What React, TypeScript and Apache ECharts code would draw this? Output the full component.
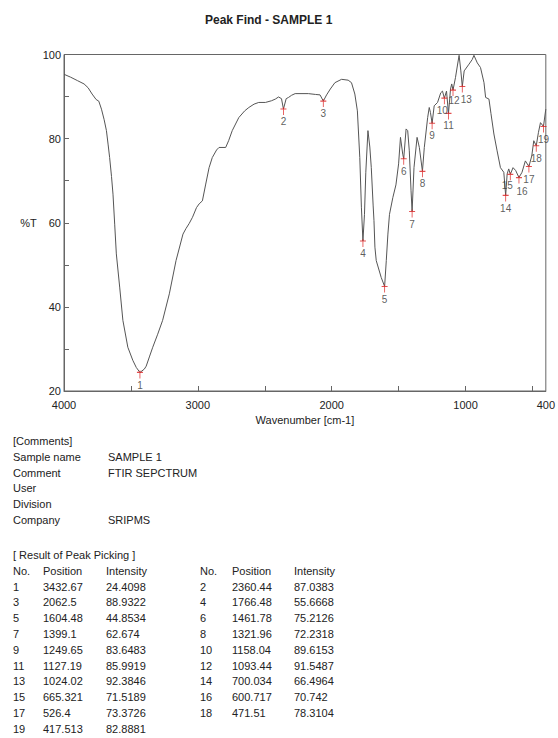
import React, { useEffect, useRef } from "react";
import * as echarts from "echarts";

const titleText = "Peak Find - SAMPLE 1";
const xName = "Wavenumber [cm-1]";
const yName = "%T";
const xLabelValues = [4000, 3000, 2000, 1000, 400];
const xTickValues = [3500, 3000, 2500, 2000, 1500, 1000, 500];

const specWn = [4000, 3950, 3900, 3850, 3820, 3790, 3760, 3740, 3720, 3700, 3683, 3670, 3659, 3645, 3634, 3621, 3609, 3584, 3560, 3523, 3486, 3460, 3432.67, 3400, 3386, 3360, 3337, 3300, 3263, 3213, 3163, 3111, 3089, 3065, 3040, 3010, 2990, 2966, 2941, 2916, 2892, 2860, 2842, 2792, 2770, 2743, 2694, 2650, 2619, 2580, 2545, 2495, 2450, 2421, 2397, 2375, 2360.44, 2340, 2322, 2300, 2273, 2174, 2120, 2087, 2062.5, 2038, 2010, 1976, 1926, 1877, 1852, 1827, 1808, 1790, 1778, 1766.48, 1755, 1745, 1729, 1715, 1704, 1690, 1684, 1677, 1667, 1630, 1604.48, 1592, 1580, 1568, 1543, 1520, 1500, 1486, 1469, 1461.78, 1444, 1432, 1420, 1407, 1399.1, 1385, 1362, 1345, 1321.96, 1308, 1283, 1271, 1262, 1249.65, 1234, 1209, 1185, 1172, 1158.04, 1142, 1127.19, 1112, 1103, 1093.44, 1075, 1060, 1048, 1035, 1024.02, 1010, 974, 950, 937, 912, 888, 862, 850, 825, 810, 788, 764, 739, 714, 700.034, 689, 677, 665.321, 645, 625, 600.717, 578, 553, 526.4, 505, 490, 471.51, 455, 440, 417.513, 402, 400];
const specT = [95.3, 94.6, 93.8, 93.0, 92.1, 90.6, 89.3, 88.9, 87.0, 84.5, 81.9, 78.5, 75.5, 71.0, 66.8, 59.5, 52.6, 44.7, 36.8, 30.4, 27.3, 25.6, 24.4098, 25.2, 25.9, 28.3, 30.4, 33.5, 36.8, 43.1, 51.0, 57.3, 58.6, 59.8, 61.3, 63.6, 64.5, 65.2, 69.2, 73.1, 75.5, 77.3, 77.9, 77.9, 79.5, 81.9, 85.0, 86.6, 87.4, 88.2, 88.6, 88.6, 89.0, 89.4, 89.9, 89.5, 87.0383, 89.5, 89.8, 90.3, 90.7, 90.7, 90.5, 90.4, 88.9322, 90.4, 91.8, 93.3, 94.1, 93.9, 93.3, 90.6, 86.6, 75.5, 63.7, 55.6668, 62.0, 72.0, 81.9, 78.0, 73.1, 64.0, 60.5, 54.2, 51.0, 47.0, 44.8534, 51.0, 57.3, 62.0, 66.0, 69.0, 74.0, 80.3, 76.3, 75.2126, 82.3, 81.9, 77.1, 67.6, 62.674, 73.1, 80.3, 77.9, 72.2318, 77.9, 85.0, 87.4, 86.2, 83.6483, 87.8, 88.6, 90.9, 91.3, 89.6153, 91.3, 85.9919, 91.8, 93.0, 91.5487, 94.5, 97.5, 99.8, 96.1, 92.3846, 96.1, 97.7, 98.8, 99.8, 98.0, 96.9, 93.3, 89.8, 89.4, 86.0, 81.1, 77.1, 73.1, 72.0, 66.4964, 71.6, 72.8, 71.5189, 73.1, 72.4, 70.742, 72.0, 74.7, 73.3726, 75.9, 79.5, 78.3104, 81.5, 83.8, 82.8881, 86.6, 87.0];

const peakNo = [1, 2, 3, 4, 5, 6, 7, 8, 9, 10, 11, 12, 13, 14, 15, 16, 17, 18, 19];
const peakPos = [3432.67, 2360.44, 2062.5, 1766.48, 1604.48, 1461.78, 1399.1, 1321.96, 1249.65, 1158.04, 1127.19, 1093.44, 1024.02, 700.034, 665.321, 600.717, 526.4, 471.51, 417.513];
const peakInt = [24.4098, 87.0383, 88.9322, 55.6668, 44.8534, 75.2126, 62.674, 72.2318, 83.6483, 89.6153, 85.9919, 91.5487, 92.3846, 66.4964, 71.5189, 70.742, 73.3726, 78.3104, 82.8881];

const commentsHeader = "[Comments]";
const commentKeys = ["Sample name", "Comment", "User", "Division", "Company"];
const commentValues = ["SAMPLE 1", "FTIR SEPCTRUM", "", "", "SRIPMS"];
const resultHeader = "[ Result of Peak Picking ]";
const tableHeaders = ["No.", "Position", "Intensity"];

const FONT = '"Liberation Sans", Arial, sans-serif';
const TXT = "#222";

// label nudges for crowded peak numbers (style only)
const labelNudge: Record<number, number[]> = {
  10: [-2, 0],
  12: [1, -2],
  13: [4, 0],
  15: [-3, -1],
  16: [3, 1],
};

function txt(x: number, y: number, text: string, extra: any = {}) {
  return {
    type: "text",
    x,
    y,
    silent: true,
    style: { text, fill: TXT, fontSize: 11, fontFamily: FONT, align: "left", verticalAlign: "middle", ...extra },
  };
}

export default function App() {
  const ref = useRef<HTMLDivElement>(null);
  useEffect(() => {
    if (!ref.current) return;
    const chart = echarts.init(ref.current, null, { renderer: "svg" });
    const lineData = specWn.map((w, i) => [w, specT[i]]);
    const peakData = peakPos.map((p, i) => {
      const item: any = { value: [p, peakInt[i], peakNo[i]] };
      const n = labelNudge[peakNo[i]];
      if (n) item.label = { offset: n };
      return item;
    });

    const graphics: any[] = [];
    const lh = 15.8;
    const c0 = 441;
    graphics.push(txt(13, c0, commentsHeader));
    commentKeys.forEach((k, i) => {
      graphics.push(txt(13, c0 + lh * (i + 1), k));
      if (commentValues[i]) graphics.push(txt(108, c0 + lh * (i + 1), commentValues[i]));
    });
    const r0 = 555;
    graphics.push(txt(13, r0, resultHeader));
    const colsL = [13, 43, 106];
    const colsR = [200, 232, 294];
    tableHeaders.forEach((h, j) => {
      graphics.push(txt(colsL[j], r0 + lh, h));
      graphics.push(txt(colsR[j], r0 + lh, h));
    });
    peakNo.forEach((n, i) => {
      const row = Math.floor(i / 2);
      const cols = i % 2 === 0 ? colsL : colsR;
      const y = r0 + lh * (row + 2);
      graphics.push(txt(cols[0], y, String(n)));
      graphics.push(txt(cols[1], y, String(peakPos[i])));
      graphics.push(txt(cols[2], y, String(peakInt[i])));
    });

    chart.setOption({
      animation: false,
      backgroundColor: "#fff",
      title: {
        text: titleText,
        left: 200,
        top: 9,
        textStyle: { fontSize: 12, fontWeight: "bold", color: TXT, fontFamily: FONT },
      },
      grid: {
        left: 64,
        right: 9,
        top: 54.5,
        bottom: 347,
        show: true,
        borderColor: "#666",
        borderWidth: 1,
        backgroundColor: "transparent",
      },
      xAxis: {
        type: "value",
        inverse: true,
        min: 400,
        max: 4000,
        name: xName,
        nameLocation: "middle",
        nameGap: 23,
        nameTextStyle: { fontSize: 11, color: TXT, fontFamily: FONT },
        axisLine: { show: true, lineStyle: { color: "#666", width: 1 } },
        axisTick: { show: true, inside: true, length: 5, customValues: xTickValues, lineStyle: { color: "#666" } },
        axisLabel: {
          customValues: xLabelValues,
          margin: 8,
          fontSize: 11,
          color: TXT,
          fontFamily: FONT,
          formatter: (v: number) => String(v),
        },
        splitLine: { show: false },
      },
      yAxis: {
        type: "value",
        min: 20,
        max: 100,
        interval: 20,
        name: yName,
        nameLocation: "middle",
        nameRotate: 0,
        nameGap: 26,
        nameTextStyle: { fontSize: 11, color: TXT, fontFamily: FONT, padding: [10, 0, 0, 0] },
        axisLine: { show: true, lineStyle: { color: "#666", width: 1 } },
        axisTick: { show: true, inside: true, length: 5, lineStyle: { color: "#666" } },
        minorTick: { show: true, splitNumber: 2, length: 5, lineStyle: { color: "#666" } },
        axisLabel: { margin: 3, fontSize: 11, color: TXT, fontFamily: FONT, formatter: (v: number) => String(v) },
        splitLine: { show: false },
      },
      series: [
        {
          type: "line",
          data: lineData,
          showSymbol: false,
          lineStyle: { color: "#555", width: 1 },
          silent: true,
          z: 2,
        },
        {
          type: "scatter",
          data: peakData,
          symbol: "path://M3,0L3,8M0,2L6,2",
          symbolSize: [6, 8],
          symbolOffset: [0, 2],
          itemStyle: { color: "transparent", borderColor: "#d22", borderWidth: 1 },
          label: {
            show: true,
            position: "bottom",
            distance: 1,
            fontSize: 10,
            color: "#333",
            fontFamily: FONT,
            formatter: (p: any) => String(p.value[2]),
          },
          silent: true,
          z: 3,
        },
      ],
      graphic: graphics,
    });
    return () => chart.dispose();
  }, []);
  return <div ref={ref} style={{ position: "fixed", left: 0, top: 0, width: 558, height: 738 }} />;
}
